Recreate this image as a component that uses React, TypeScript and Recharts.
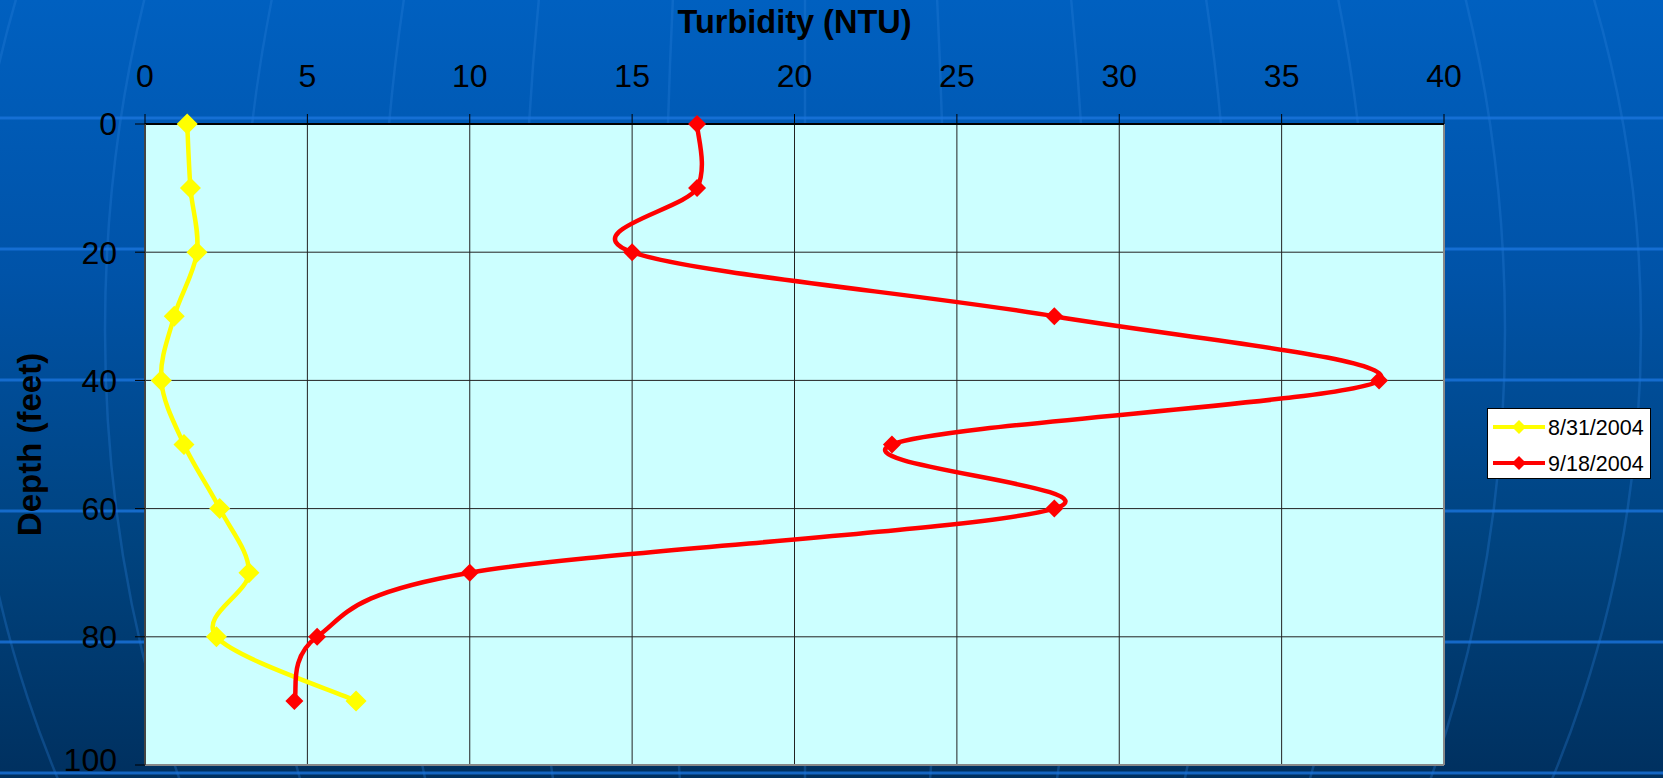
import React from "react";
import { LineChart, Line, XAxis, YAxis, CartesianGrid, Legend, ReferenceLine } from "recharts";

const depths = [0, 10, 20, 30, 40, 50, 60, 70, 80, 90];
const aug31 = [1.3, 1.4, 1.6, 0.9, 0.5, 1.2, 2.3, 3.2, 2.2, 6.5];
const sep18 = [17, 17, 15, 28, 38, 23, 28, 10, 5.3, 4.6];
const turbidityTicks = [0, 5, 10, 15, 20, 25, 30, 35, 40];
const depthTicks = [0, 20, 40, 60, 80, 100];
const seriesNames = ["8/31/2004", "9/18/2004"];

const data = depths.map((depth, i) => ({ depth, aug31: aug31[i], sep18: sep18[i] }));

const FONT = '"Liberation Sans", Arial, Helvetica, sans-serif';
const W = 1663;
const H = 778;

// Excel-style smoothed line (uniform Catmull-Rom as cubic beziers)
function excelSmooth(context: any) {
  let pts: [number, number][] = [];
  return {
    areaStart() {},
    areaEnd() {},
    lineStart() {
      pts = [];
    },
    lineEnd() {
      if (!pts.length) return;
      context.moveTo(pts[0][0], pts[0][1]);
      for (let i = 0; i < pts.length - 1; i++) {
        const p0 = pts[Math.max(i - 1, 0)];
        const p1 = pts[i];
        const p2 = pts[i + 1];
        const p3 = pts[Math.min(i + 2, pts.length - 1)];
        context.bezierCurveTo(
          p1[0] + (p2[0] - p0[0]) / 6,
          p1[1] + (p2[1] - p0[1]) / 6,
          p2[0] - (p3[0] - p1[0]) / 6,
          p2[1] - (p3[1] - p1[1]) / 6,
          p2[0],
          p2[1]
        );
      }
    },
    point(x: number, y: number) {
      pts.push([x, y]);
    },
  };
}

const diamond = (size: number, color: string) => (props: any) => {
  const { cx, cy, index } = props;
  if (cx == null || cy == null) return <g key={index} />;
  const h = size / 2;
  return (
    <path key={index} d={`M${cx},${cy - h}L${cx + h},${cy}L${cx},${cy + h}L${cx - h},${cy}Z`} fill={color} />
  );
};

function LegendBox({ payload }: any) {
  const items = payload || [];
  return (
    <svg width={164} height={71} style={{ display: "block" }}>
      <rect x={0.5} y={0.5} width={163} height={70} fill="#fff" stroke="#000" />
      {items.map((p: any, i: number) => {
        const cy = 19 + i * 36;
        return (
          <g key={p.value}>
            <line x1={6} x2={58} y1={cy} y2={cy} stroke={p.color} strokeWidth={4} />
            <path d={`M32,${cy - 7}L39,${cy}L32,${cy + 7}L25,${cy}Z`} fill={p.color} />
            <text x={61} y={cy + 7.5} fontSize={21.5} fontFamily={FONT} fill="#000">
              {p.value}
            </text>
          </g>
        );
      })}
    </svg>
  );
}

function Globe() {
  const cx = 805;
  const cy = 330;
  const radii = [140, 282, 425, 565, 700, 836, 980];
  const lats = [118, 249, 380, 511, 642, 773];
  return (
    <svg width={W} height={H} style={{ position: "absolute", left: 0, top: 0 }}>
      {radii.map((rx) => (
        <ellipse key={rx} cx={cx} cy={cy} rx={rx} ry={1000} fill="none" stroke="#2a80dc" strokeOpacity={0.3} strokeWidth={2.5} />
      ))}
      <line x1={cx} x2={cx} y1={0} y2={H} stroke="#2a80dc" strokeOpacity={0.3} strokeWidth={2.5} />
      {lats.map((y) => (
        <line key={y} x1={0} x2={W} y1={y} y2={y} stroke="#1a74dc" strokeOpacity={0.8} strokeWidth={3} />
      ))}
    </svg>
  );
}

export default function App() {
  return (
    <div
      style={{
        position: "absolute",
        left: 0,
        top: 0,
        width: W,
        height: H,
        overflow: "hidden",
        background: "linear-gradient(to bottom, #0060c0 0%, #0053a8 35%, #00437f 70%, #00305f 100%)",
        fontFamily: FONT,
      }}
    >
      <Globe />
      <div style={{ position: "absolute", left: 0, top: 0 }}>
        <LineChart width={W} height={H} data={data} layout="vertical" margin={{ top: 0, right: 219, bottom: 13, left: 0 }}>
          <CartesianGrid fill="#ccffff" fillOpacity={1} stroke="#222" strokeWidth={1} />
          <XAxis
            type="number"
            orientation="top"
            domain={[0, 40]}
            ticks={turbidityTicks}
            height={124}
            tickSize={10}
            tickMargin={27}
            axisLine={{ stroke: "#000", strokeWidth: 2 }}
            tickLine={{ stroke: "#000" }}
            tick={{ fill: "#000", fontSize: 32, fontFamily: FONT }}
            label={{
              content: ({ viewBox }: any) => (
                <text
                  x={viewBox.x + viewBox.width / 2}
                  y={33}
                  textAnchor="middle"
                  fontSize={32.5}
                  fontWeight="bold"
                  fontFamily={FONT}
                  fill="#000"
                >
                  Turbidity (NTU)
                </text>
              ),
            }}
          />
          <YAxis
            type="number"
            dataKey="depth"
            domain={[0, 100]}
            ticks={depthTicks}
            width={145}
            tickSize={10}
            tickMargin={18}
            axisLine={{ stroke: "#444", strokeWidth: 2 }}
            tickLine={{ stroke: "#000" }}
            tick={{ fill: "#000", fontSize: 32, fontFamily: FONT }}
            label={{
              content: ({ viewBox }: any) => {
                const x = 41;
                const y = viewBox.y + viewBox.height / 2;
                return (
                  <text
                    x={x}
                    y={y}
                    transform={`rotate(-90 ${x} ${y})`}
                    textAnchor="middle"
                    fontSize={33}
                    fontWeight="bold"
                    fontFamily={FONT}
                    fill="#000"
                  >
                    Depth (feet)
                  </text>
                );
              },
            }}
          />
          <ReferenceLine x={40} stroke="#888" strokeWidth={2} />
          <ReferenceLine y={100} stroke="#888" strokeWidth={2} />
          <Legend
            layout="horizontal"
            align="center"
            verticalAlign="middle"
            content={<LegendBox />}
            wrapperStyle={{ left: 1487, top: 408, width: 164, height: 71 }}
          />
          <Line
            name={seriesNames[0]}
            dataKey="aug31"
            type={excelSmooth as any}
            stroke="#ffff00"
            strokeWidth={4.5}
            dot={diamond(21, "#ffff00")}
            activeDot={false}
            isAnimationActive={false}
          />
          <Line
            name={seriesNames[1]}
            dataKey="sep18"
            type={excelSmooth as any}
            stroke="#ff0000"
            strokeWidth={4.5}
            dot={diamond(18, "#ff0000")}
            activeDot={false}
            isAnimationActive={false}
          />
        </LineChart>
      </div>
    </div>
  );
}
